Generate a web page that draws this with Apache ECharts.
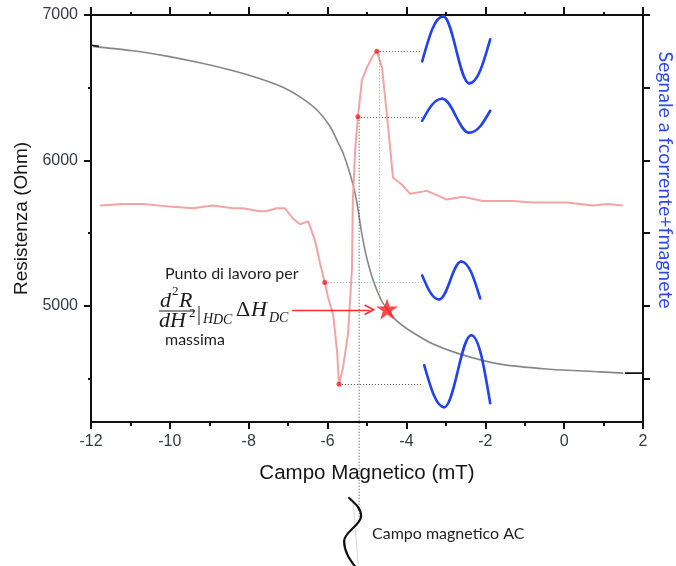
<!DOCTYPE html>
<html>
<head>
<meta charset="utf-8">
<script src="https://cdn.jsdelivr.net/npm/echarts@6/dist/echarts.min.js"></script>
<style>
  html, body { margin: 0; padding: 0; background: #fff; }
  #chart { width: 676px; height: 566px; }
</style>
</head>
<body>
<div id="chart"></div>
<script>
// Resistance vs DC magnetic field (mT, Ohm)
const fieldMT = [-11.95, -11.86, -10.93, -10.08, -9.24, -8.39, -7.71, -7.12, -6.70, -6.28, -5.94, -5.73,
  -5.60, -5.43, -5.30, -5.22, -5.13, -5.01, -4.84, -4.63, -4.49, -4.25, -3.91, -3.32, -2.64, -1.63, -0.36, 0.91, 1.50];
const resistanceOhm = [6784, 6781, 6754, 6717, 6671, 6616, 6561, 6501, 6437, 6350, 6235, 6120,
  6046, 5908, 5770, 5650, 5494, 5333, 5172, 5034, 4978, 4897, 4828, 4736, 4667, 4598, 4563, 4545, 4536];
// Instrument end segments of the resistance trace
const traceStartMT = [-12.0, -11.8];
const traceStartOhm = [6792, 6785];
const traceEndMT = [1.54, 2.0];
const traceEndOhm = [4536, 4536];

// Lock-in signal (arbitrary units) vs DC field
const signalFieldMT = [-11.77, -11.18, -10.68, -9.92, -9.41, -8.91, -8.40, -8.15, -7.72, -7.55, -7.29, -7.08,
  -6.88, -6.70, -6.49, -6.32, -6.19, -6.07, -5.99, -5.86, -5.76, -5.71, -5.61, -5.48, -5.38, -5.36, -5.30,
  -5.23, -5.13, -5.00, -4.85, -4.75, -4.62, -4.49, -4.34, -4.10, -3.91, -3.48, -2.97, -2.57, -2.06, -1.30,
  -0.79, 0.07, 0.73, 1.09, 1.49];
const signalAU = [1.19, 1.20, 1.20, 1.18, 1.17, 1.19, 1.17, 1.17, 1.15, 1.15, 1.17, 1.17,
  1.10, 1.06, 1.08, 0.95, 0.79, 0.66, 0.56, 0.44, 0.19, -0.04, 0.07, 0.31, 0.76, 1.22, 1.57,
  1.80, 2.05, 2.14, 2.22, 2.25, 2.14, 1.80, 1.38, 1.33, 1.27, 1.29, 1.23, 1.25, 1.22, 1.22,
  1.21, 1.21, 1.19, 1.20, 1.19];

// Sampled points on the signal curve (top wave first)
const pointFieldMT = [-4.75, -5.23, -6.07, -5.71];
const pointSignal = [2.25, 1.80, 0.66, -0.04];

// Working point on the resistance curve
const workFieldMT = -4.49;
const workOhm = 4978;

// Axis ticks
const fieldMin = -12, fieldMax = 2, fieldStep = 2;
const ohmMin = 4200, ohmMax = 7000;
const ohmMajor = [5000, 6000, 7000];
const ohmMinor = [4500, 5500, 6500];
const signalMin = -0.3, signalMax = 2.5;
const signalTicks = [0, 0.5, 1, 1.5, 2, 2.5];

const zip = (a, b) => a.map((v, i) => [v, b[i]]);

const AXIS = '#111';
const LABEL = '#333a46';
const STAR = 'path://M50,0 L61.8,35.1 L98.9,35.1 L68.9,56.7 L80.3,91.9 L50,70.2 L19.7,91.9 L31.1,56.7 L1.1,35.1 L38.2,35.1 Z';
const CHEVRON = 'path://M0,10 L5,0 L10,10 L8.7,10.7 L5,3.3 L1.3,10.7 Z';

const dotted = (color) => ({ type: [1, 2], color: color, width: 1 });
const axisLine = { show: true, onZero: false, lineStyle: { color: AXIS, width: 2 } };

const option = {
  animation: false,
  grid: { left: 91, right: 33, top: 15, bottom: 144, containLabel: false },
  xAxis: [
    {
      type: 'value', position: 'bottom', min: fieldMin, max: fieldMax, interval: fieldStep,
      axisLine: axisLine,
      axisTick: { length: 7, lineStyle: { color: AXIS, width: 2 } },
      minorTick: { show: true, splitNumber: 2, length: 4, lineStyle: { color: AXIS, width: 2 } },
      splitLine: { show: false }, minorSplitLine: { show: false },
      axisLabel: { fontSize: 16, color: LABEL, margin: 12, fontFamily: 'Liberation Sans' },
      name: 'Campo Magnetico (mT)', nameLocation: 'middle', nameGap: 41,
      nameTextStyle: { fontSize: 20.5, color: '#151515', fontFamily: 'Liberation Sans' }
    },
    {
      type: 'value', position: 'top', min: fieldMin, max: fieldMax, interval: fieldStep,
      axisLine: axisLine,
      axisTick: { length: 8, lineStyle: { color: AXIS, width: 2 } },
      minorTick: { show: true, splitNumber: 2, length: 3, lineStyle: { color: AXIS, width: 2 } },
      splitLine: { show: false }, minorSplitLine: { show: false },
      axisLabel: { show: false }
    }
  ],
  yAxis: [
    {
      type: 'value', position: 'left', min: ohmMin, max: ohmMax,
      axisLine: axisLine,
      axisTick: { show: true, customValues: ohmMajor, length: 7, lineStyle: { color: AXIS, width: 2 } },
      axisLabel: { customValues: ohmMajor, formatter: (v) => String(v), fontSize: 16, color: LABEL, margin: 13, fontFamily: 'Liberation Sans' },
      splitLine: { show: false },
      name: 'Resistenza (Ohm)', nameLocation: 'middle', nameGap: 60,
      nameTextStyle: { fontSize: 19, color: '#151515', fontFamily: 'Liberation Sans' }
    },
    {
      type: 'value', position: 'left', min: ohmMin, max: ohmMax,
      axisLine: { show: false, onZero: false },
      axisTick: { show: true, customValues: ohmMinor, length: 3, lineStyle: { color: AXIS, width: 2 } },
      axisLabel: { show: false },
      splitLine: { show: false }
    },
    {
      type: 'value', position: 'right', min: signalMin, max: signalMax,
      axisLine: axisLine,
      axisTick: { show: true, customValues: signalTicks, length: 7, lineStyle: { color: AXIS, width: 2 } },
      axisLabel: { show: false },
      splitLine: { show: false }
    }
  ],
  series: [
    {
      name: 'Resistenza', type: 'line', xAxisIndex: 0, yAxisIndex: 0,
      data: zip(fieldMT, resistanceOhm), showSymbol: false, smooth: 0.3,
      lineStyle: { color: '#878787', width: 1.6 }, silent: true
    },
    {
      type: 'line', xAxisIndex: 0, yAxisIndex: 0, data: zip(traceStartMT, traceStartOhm),
      showSymbol: false, lineStyle: { color: '#111', width: 1.6 }, silent: true
    },
    {
      type: 'line', xAxisIndex: 0, yAxisIndex: 0, data: zip(traceEndMT, traceEndOhm),
      showSymbol: false, lineStyle: { color: '#111', width: 1.6 }, silent: true
    },
    {
      name: 'Segnale', type: 'line', xAxisIndex: 0, yAxisIndex: 2,
      data: zip(signalFieldMT, signalAU), showSymbol: false,
      lineStyle: { color: '#f2a4a4', width: 2 }, silent: true
    },
    {
      name: 'Punti', type: 'scatter', xAxisIndex: 0, yAxisIndex: 2,
      data: zip(pointFieldMT, pointSignal), symbol: 'circle', symbolSize: 5,
      itemStyle: { color: '#ff1f1f' }, silent: true, z: 5,
      markLine: {
        silent: true, symbol: 'none', label: { show: false },
        lineStyle: dotted('#555'),
        data: [
          [{ coord: [pointFieldMT[0], pointSignal[0]] }, { coord: [-3.6, pointSignal[0]] }],
          [{ coord: [pointFieldMT[1], pointSignal[1]] }, { coord: [-3.6, pointSignal[1]] }],
          [{ coord: [pointFieldMT[2], pointSignal[2]], lineStyle: dotted('#8fb4e0') }, { coord: [-3.6, pointSignal[2]] }],
          [{ coord: [pointFieldMT[3], pointSignal[3]] }, { coord: [-3.58, pointSignal[3]] }],
          [{ coord: [-4.68, pointSignal[0]], lineStyle: dotted('#ff6b6b') }, { coord: [-4.68, 0.55] }]
        ]
      }
    },
    {
      name: 'Punto di lavoro', type: 'scatter', xAxisIndex: 0, yAxisIndex: 0,
      data: [[workFieldMT, workOhm]], symbol: STAR, symbolSize: [22, 21],
      itemStyle: { color: '#ff1a1a' }, silent: true, z: 6,
      markLine: {
        silent: true, label: { show: false },
        symbol: ['none', CHEVRON], symbolSize: 11,
        lineStyle: { color: '#ff2a2a', width: 1.4, type: 'solid' },
        data: [[{ coord: [-6.90, 4972] }, { coord: [-4.93, 4972] }]]
      }
    }
  ]
};

const chart = echarts.init(document.getElementById('chart'), null, { renderer: 'canvas' });
chart.setOption(option);

const px = (v) => chart.convertToPixel({ xAxisIndex: 0 }, v);
const pySignal = (v) => chart.convertToPixel({ yAxisIndex: 2 }, v);

// One cubic segment as a graphic element
const seg = (p0, c1, c2, p1, stroke, width) => ({
  type: 'bezierCurve', silent: true, z: 10,
  shape: { x1: p0[0], y1: p0[1], cpx1: c1[0], cpy1: c1[1], cpx2: c2[0], cpy2: c2[1], x2: p1[0], y2: p1[1] },
  style: { fill: null, stroke: stroke, lineWidth: width, lineCap: 'round' }
});

// Horizontal sine glyph: start, first extreme, second extreme, end
function wave(ax, ay, pts, stroke, width) {
  const [S, A, B, E] = pts.map((q) => [ax + q[0], ay + q[1]]);
  let dx = A[0] - S[0], dy = A[1] - S[1];
  const out = [seg(S, [S[0] + 0.33 * dx, S[1] + 0.55 * dy], [A[0] - 0.4 * dx, A[1]], A, stroke, width)];
  dx = B[0] - A[0];
  out.push(seg(A, [A[0] + 0.37 * dx, A[1]], [B[0] - 0.37 * dx, B[1]], B, stroke, width));
  dx = E[0] - B[0]; dy = E[1] - B[1];
  out.push(seg(B, [B[0] + 0.4 * dx, B[1]], [E[0] - 0.33 * dx, E[1] - 0.55 * dy], E, stroke, width));
  return out;
}
// Vertical sine glyph (extremes along x)
function vWave(ax, ay, pts, stroke, width) {
  const [S, A, B, E] = pts.map((q) => [ax + q[0], ay + q[1]]);
  let dx = A[0] - S[0], dy = A[1] - S[1];
  const out = [seg(S, [S[0] + 0.55 * dx, S[1] + 0.33 * dy], [A[0], A[1] - 0.4 * dy], A, stroke, width)];
  dy = B[1] - A[1];
  out.push(seg(A, [A[0], A[1] + 0.37 * dy], [B[0], B[1] - 0.37 * dy], B, stroke, width));
  dx = E[0] - B[0]; dy = E[1] - B[1];
  out.push(seg(B, [B[0], B[1] + 0.4 * dy], [E[0] - 0.55 * dx, E[1] - 0.33 * dy], E, stroke, width));
  return out;
}

const waveX = px(-3.6);
const waveShapes = [
  [[0, 10], [21, -35], [47, 32], [68, -12]],
  [[0, 4], [20, -18], [47, 16], [68, -6]],
  [[0, -7], [17, 17], [39, -21], [58, 16]],
  [[2, -19], [22, 23], [49, -49], [68, 19]]
];
const BLUE = '#2142ee';
let graphics = [];
waveShapes.forEach((shape, i) => {
  graphics = graphics.concat(wave(waveX, pySignal(pointSignal[i]), shape, BLUE, 2.6));
});

// Dotted guide from the second sampled point down past the field axis
const acX = px(-5.2);
const axisY = chart.convertToPixel({ yAxisIndex: 0 }, ohmMin);
graphics.push({
  type: 'line', silent: true, z: 4,
  shape: { x1: acX, y1: pySignal(pointSignal[1]), x2: acX, y2: axisY + 96 },
  style: { stroke: '#444', lineWidth: 1, lineDash: [1, 2] }
});

// AC field glyph under the axis
graphics.push({
  type: 'line', silent: true, z: 9,
  shape: { x1: acX - 6, y1: axisY + 80, x2: acX - 1, y2: axisY + 142 },
  style: { stroke: '#d8d8d8', lineWidth: 1 }
});
graphics = graphics.concat(vWave(acX, axisY, [[-10, 76], [2, 94], [-15, 119], [-3, 146]], '#111', 2.2));

const SANS = 'Lato';
const SERIF = 'Liberation Serif';
const text = (t, x, y, size, opts = {}) => ({
  type: 'text', silent: true, z: 12, x: x, y: y,
  style: Object.assign({
    text: t, fontSize: size, fontFamily: SANS, fill: '#1e1e1e',
    align: 'left', verticalAlign: 'middle'
  }, opts)
});
const math = (t, x, y, size, italic) => text(t, x, y, size, { fontFamily: SERIF, fontStyle: italic ? 'italic' : 'normal', fill: '#1a1a1a' });

graphics.push(text('Campo magnetico AC', 372, 534, 16));
graphics.push(text('Punto di lavoro per', 165, 274, 16));
graphics.push(text('massima', 165, 340, 16));

// d^2R / dH^2 |_{H_DC} ΔH_DC
graphics.push(math('d', 160, 301, 22, true));
graphics.push(math('2', 172, 292, 13, false));
graphics.push(math('R', 179, 301, 22, true));
graphics.push({ type: 'line', silent: true, z: 12, shape: { x1: 159, y1: 311, x2: 195, y2: 311 }, style: { stroke: '#1a1a1a', lineWidth: 1 } });
graphics.push(math('d', 159, 321, 22, true));
graphics.push(math('H', 170, 321, 22, true));
graphics.push(math('2', 189, 314, 13, false));
graphics.push(math('|', 197, 315, 20, false));
graphics.push(math('H', 203, 319, 14, true));
graphics.push(math('DC', 213, 320, 14, true));
graphics.push(math('\u0394', 236, 310, 22, false));
graphics.push(math('H', 251, 310, 22, true));
graphics.push(math('DC', 269, 318, 14, true));

// Right-hand axis title
graphics.push({
  type: 'text', silent: true, z: 12, x: 665, y: 180, rotation: -Math.PI / 2,
  style: { text: 'Segnale a fcorrente+fmagnete', fontSize: 19.5, fontFamily: SANS, fill: '#2d49ec', align: 'center', verticalAlign: 'middle' }
});

chart.setOption({ graphic: graphics });
</script>
</body>
</html>
